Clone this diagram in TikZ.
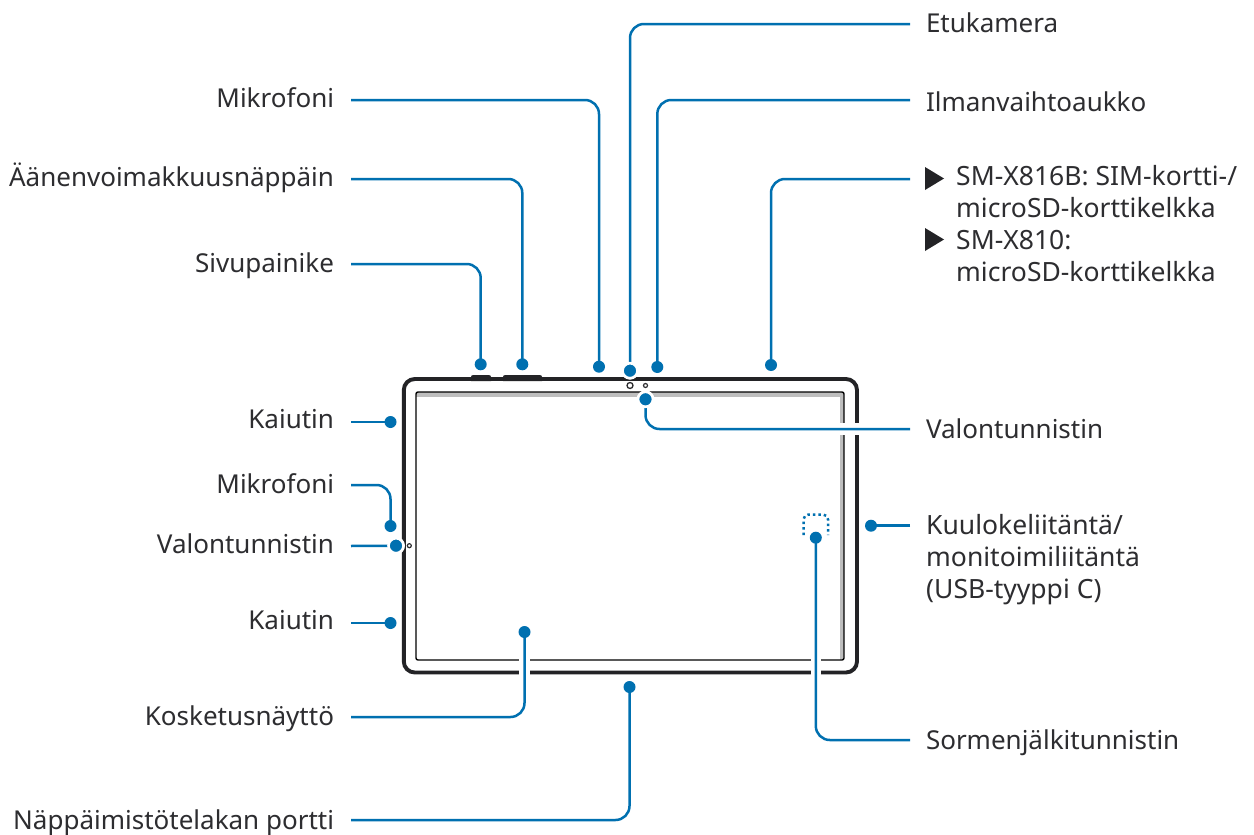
\documentclass[tikz,border=0pt]{standalone}
\usepackage{fontspec}
\setmainfont{Noto Sans}
\definecolor{lead}{RGB}{0,112,176}
\definecolor{frame}{RGB}{35,35,38}
\definecolor{band}{RGB}{190,190,190}
\definecolor{thin}{RGB}{95,95,95}
\definecolor{ink}{RGB}{45,45,48}
\tikzset{
  x=1pt,y=-1pt,
  leader/.style={draw=lead,line width=2.5pt,rounded corners=14pt},
  dotn/.style={circle,fill=lead,inner sep=0pt,minimum size=12pt},
  halo/.style={dotn,draw=white,line width=2.6pt,minimum size=15pt},
  lab/.style={font=\fontsize{26}{32}\selectfont,text=ink,inner ysep=0pt,outer sep=0pt,text height=#1,text depth=0pt},
  lab/.default=17pt,
  labl/.style={lab=#1,anchor=east,inner xsep=17pt},
  labl/.default=17pt,
  labr/.style={lab=#1,anchor=west,inner xsep=16pt},
  labr/.default=19pt,
  multi/.style={font=\fontsize{26.5}{32}\selectfont,text=ink,align=left,anchor=north west,inner sep=0pt},
  gapw/.style={fill=white}
}
\begin{document}
\begin{tikzpicture}
\useasboundingbox (0,0) rectangle (1254,835);
\fill[white] (0,0) rectangle (1254,835);
% device
\fill[frame] (471,381) -- (471,377) .. controls (471,375.5) and (472,375) .. (474,375) -- (488,375) .. controls (490,375) and (491,375.5) .. (491,377) -- (491,381) -- cycle;
\fill[frame] (503,381) -- (503,377) .. controls (503,375.5) and (504,375) .. (506,375) -- (539,375) .. controls (541,375) and (542,375.5) .. (542,377) -- (542,381) -- cycle;
\draw[frame,line width=3.9pt,rounded corners=11pt] (403.8,379) rectangle (857,672.5);
\fill[band] (416,392) rectangle (844,396.5);
\fill[band] (839.5,392) rectangle (844,660);
\draw[thin,line width=1.4pt,rounded corners=2pt] (416,660) -- (416,392) -- (844,392) -- (844,660) -- cycle;
\draw[ink,line width=1.3pt] (630,385.5) circle (3);
\draw[ink,line width=1.2pt] (645.5,385.5) circle (2);
\draw[ink,line width=1.2pt] (409.3,545.7) circle (2);
\draw[lead,line width=2.5pt,dash pattern=on 2.5pt off 3pt,rounded corners=5pt] (803.5,535) -- (803.5,514.5) -- (828,514.5) -- (828,535);
% gaps where leaders cross the device
\fill[gapw] (836,423) rectangle (862,435);
\fill[gapw] (519,655) rectangle (530,677);
\fill[gapw] (811,655) rectangle (821,677);
% dots
\node[dotn] (d1) at (599,366.7) {};
\node[dotn] (d2) at (522.3,364.3) {};
\node[dotn] (d3) at (480.7,364.3) {};
\node[dotn] (d4) at (390.5,422) {};
\node[dotn] (d5) at (390.5,526) {};
\node[halo] (d6) at (396,545.7) {};
\node[dotn] (d7) at (390.5,623) {};
\node[dotn] (d8) at (524.5,632) {};
\node[dotn] (d9) at (629.5,687) {};
\node[halo] (d10) at (630,370.7) {};
\node[dotn] (d11) at (657.3,367) {};
\node[dotn] (d12) at (771,365) {};
\node[halo] (d13) at (645.5,399.3) {};
\node[dotn] (d14) at (871,525.7) {};
\node[dotn] (d15) at (815.8,537.7) {};
% left labels
\node[labl=15pt] (l1) at (351,100) {Mikrofoni};
\node[labl=15pt] (l2) at (351,179) {Äänenvoimakkuusnäppäin};
\node[labl=17pt] (l3) at (351,264) {Sivupainike};
\node[labl=13pt] (l4) at (351,422) {Kaiutin};
\node[labl=17pt] (l5) at (351,485) {Mikrofoni};
\node[labl=15pt] (l6) at (351,546) {Valontunnistin};
\node[labl=13pt] (l7) at (351,623) {Kaiutin};
\node[labl=17pt] (l8) at (351,717) {Kosketusnäyttö};
\node[labl=19pt] (l9) at (351,820) {Näppäimistötelakan portti};
% right labels
\node[labr=17pt] (r1) at (910,24) {Etukamera};
\node[labr=23pt] (r2) at (910,100) {Ilmanvaihtoaukko};
\node[labr=19pt] (r3) at (910,429) {Valontunnistin};
\node[labr=19pt] (r5) at (910,740) {Sormenjälkitunnistin};
\node[multi] (r4) at (926,514) {Kuulokeliitäntä/\\monitoimiliitäntä\\(USB-tyyppi C)};
\node[multi] (r6) at (956,165) {SM-X816B: SIM-kortti-/\\microSD-korttikelkka\\SM-X810:\\microSD-korttikelkka};
\coordinate (r4c) at (910,525.7);
\coordinate (r6c) at (910,179);
\fill[frame] (925,167) -- (944,178.5) -- (925,190) -- cycle;
\fill[frame] (925,228) -- (944,239.5) -- (925,251) -- cycle;
% leaders
\draw[leader] (l1.east) -| (d1.center);
\draw[leader] (l2.east) -| (d2.center);
\draw[leader] (l3.east) -| (d3.center);
\draw[leader] (l4.east) -- (d4.center);
\draw[leader] (l5.east) -| (d5.center);
\draw[leader] (l6.east) -- (d6.center);
\draw[leader] (l7.east) -- (d7.center);
\draw[leader] (l8.east) -| (d8.center);
\draw[leader] (l9.east) -| (d9.center);
\draw[leader] (r1.west) -| (d10.center);
\draw[leader] (r2.west) -| (d11.center);
\draw[leader] (r6c) -| (d12.center);
\draw[leader] (r3.west) -| (d13.center);
\draw[leader] (r4c) -- (d14.center);
\draw[leader] (r5.west) -| (d15.center);
% dots above leaders
\foreach \n/\s in {d6/halo,d10/halo,d13/halo}{\node[\s] at (\n) {};}
\end{tikzpicture}
\end{document}
